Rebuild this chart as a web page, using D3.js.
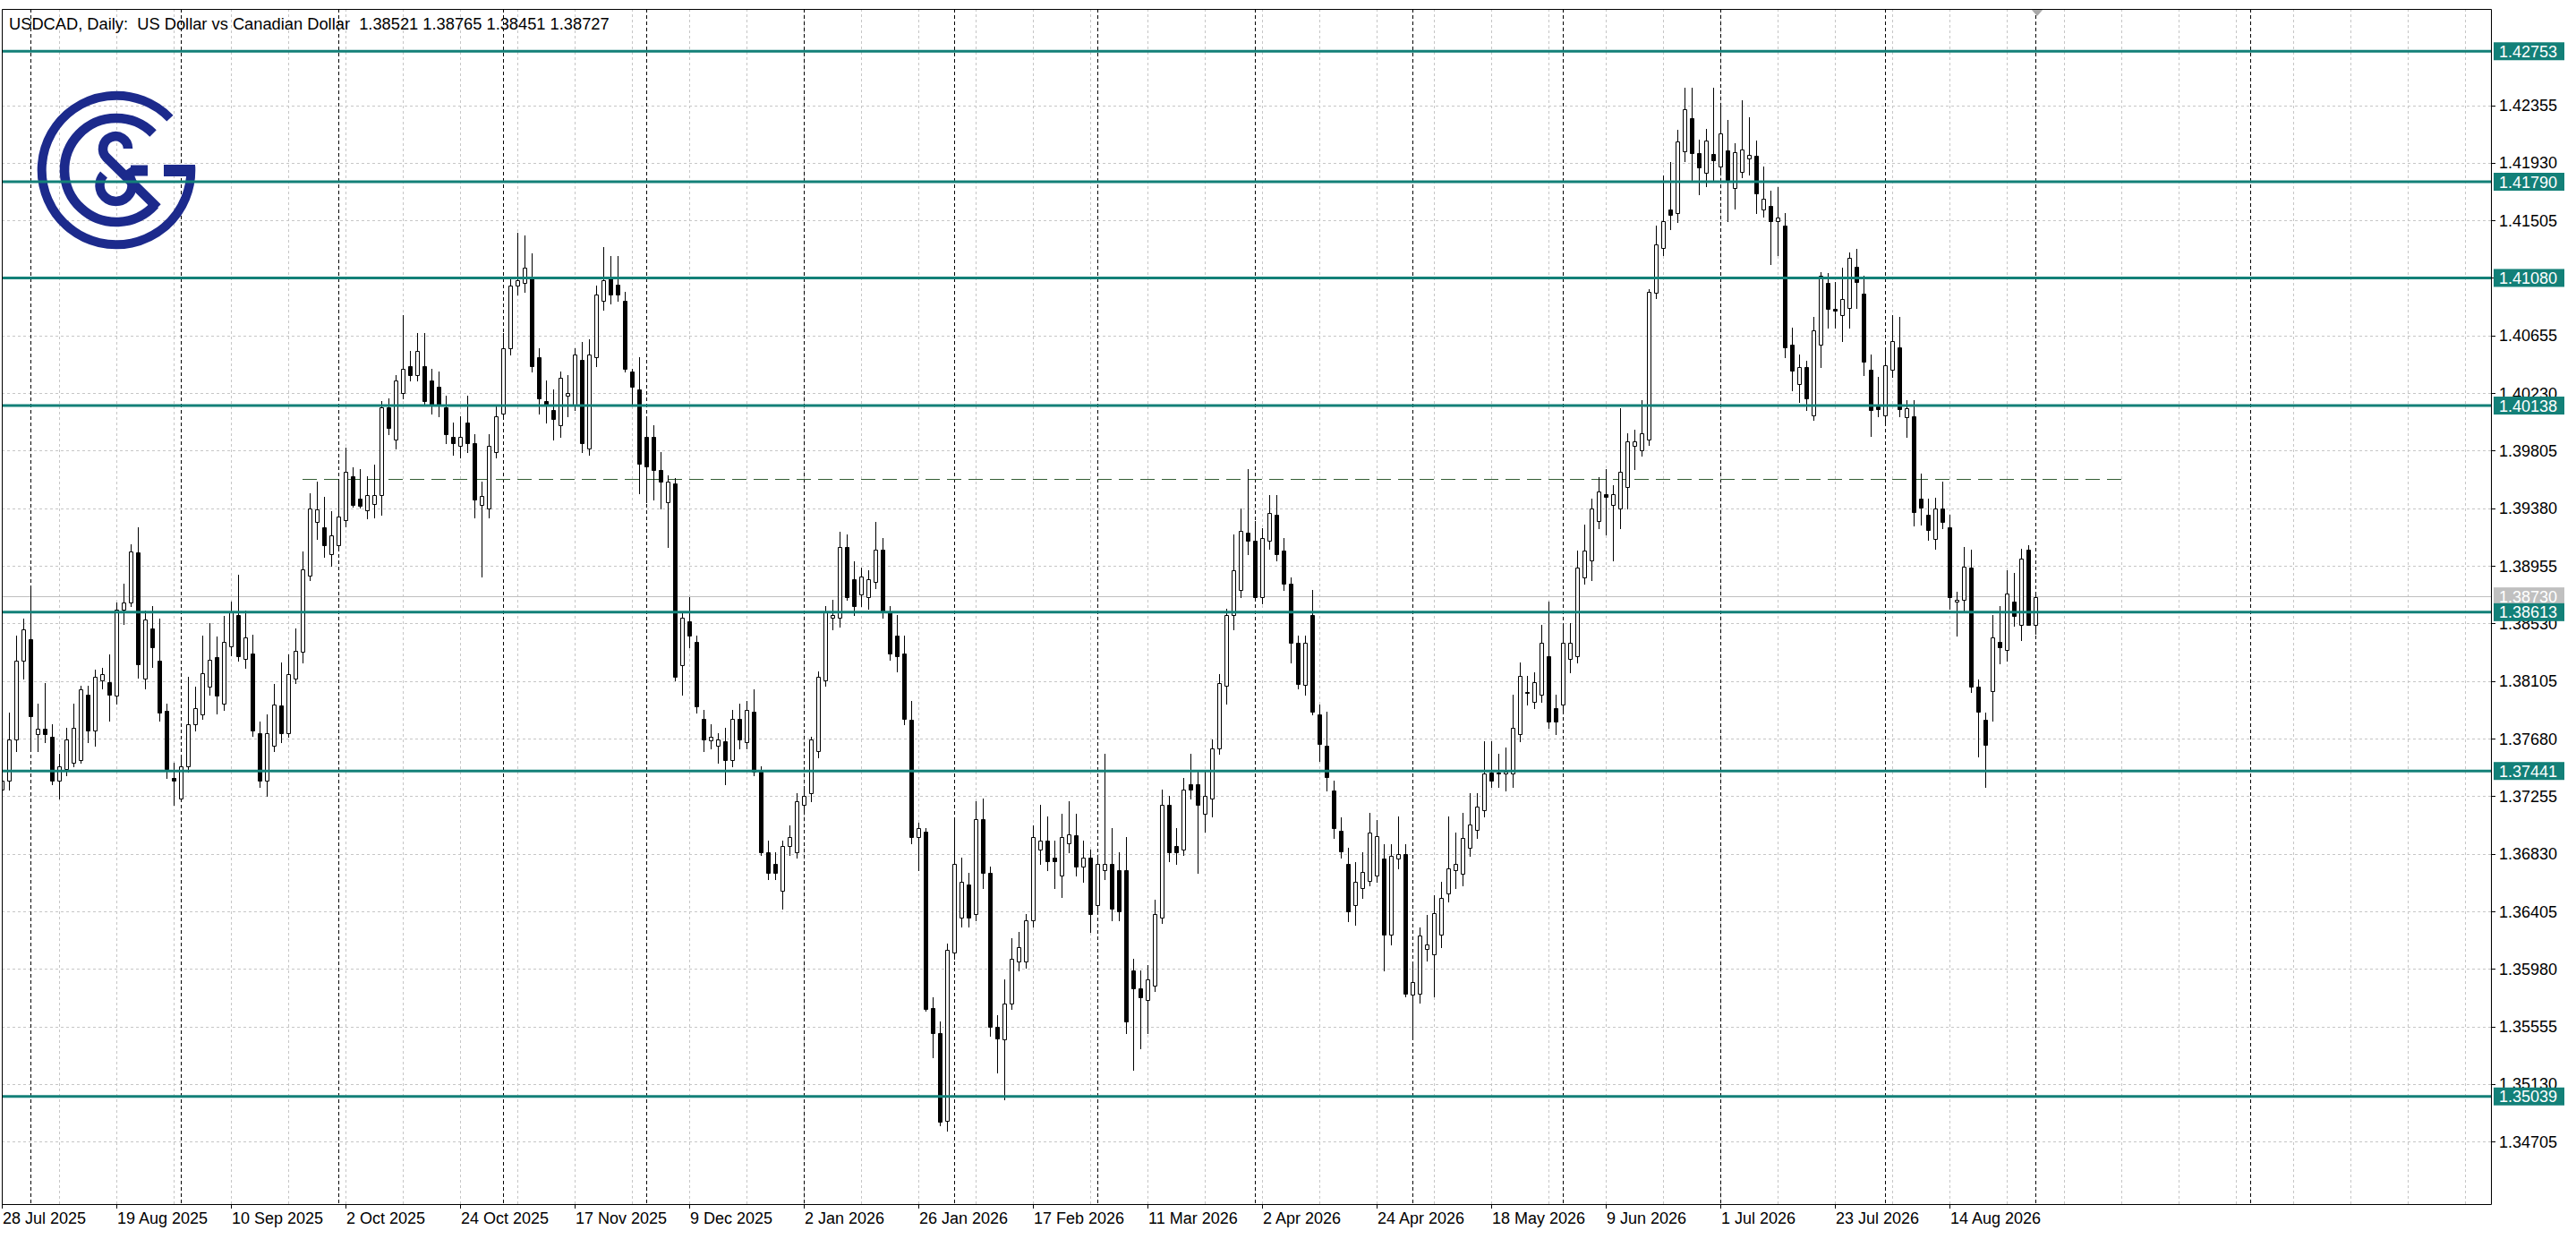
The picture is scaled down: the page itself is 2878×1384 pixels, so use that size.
<!DOCTYPE html>
<html><head><meta charset="utf-8">
<script src="https://cdn.jsdelivr.net/npm/d3@7"></script>
<style>
html,body{margin:0;padding:0;background:#fff;overflow:hidden}
svg{display:block}
</style>
</head><body>
<svg id="chart" width="2878" height="1384"></svg>
<script>
// ---------------- DATA ----------------
const titleText = "USDCAD, Daily:  US Dollar vs Canadian Dollar  1.38521 1.38765 1.38451 1.38727";

const open = [
1.37302,1.37368,1.37674,1.38253,1.38412,1.37714,1.37753,1.37696,1.37368,1.37455,
1.37499,1.37521,1.38002,1.37740,1.38110,1.38099,1.37996,1.38634,1.38683,1.39053,
1.38121,1.38493,1.38258,1.37883,1.37390,1.37236,1.37477,1.37784,1.37857,1.38062,
1.38280,1.37941,1.38359,1.38595,1.38269,1.38308,1.37718,1.37368,1.37630,1.37923,
1.37718,1.38121,1.38319,1.38881,1.39277,1.39238,1.39040,1.39106,1.39295,1.39614,
1.39449,1.39365,1.39414,1.39480,1.40125,1.39884,1.40234,1.40431,1.40365,1.40431,
1.40321,1.40278,1.40125,1.39906,1.39840,1.40015,1.39862,1.39402,1.39381,1.39796,
1.40081,1.40562,1.41022,1.41043,1.41087,1.40496,1.40168,1.40103,1.39993,1.40212,
1.40146,1.40475,1.39818,1.40496,1.40912,1.41087,1.41030,1.40912,1.40387,1.40256,
1.39906,1.39906,1.39665,1.39424,1.39564,1.38221,1.38549,1.38396,1.37827,1.37665,
1.37630,1.37660,1.37521,1.37827,1.37652,1.37880,1.37433,1.36843,1.36755,1.36558,
1.36886,1.36843,1.37193,1.37280,1.37586,1.38112,1.38571,1.38571,1.39096,1.38855,
1.38746,1.38724,1.38834,1.39074,1.38615,1.38440,1.38309,1.37818,1.36952,1.36996,
1.35692,1.35508,1.34861,1.36098,1.36361,1.36602,1.36383,1.37083,1.36689,1.35552,
1.35463,1.35726,1.36033,1.36033,1.36339,1.36864,1.36930,1.36799,1.36667,1.36908,
1.36964,1.36733,1.36799,1.36449,1.36711,1.36755,1.36711,1.36711,1.35967,1.35836,
1.35748,1.35858,1.36361,1.37193,1.36886,1.36864,1.37346,1.37346,1.37127,1.37236,
1.37608,1.38068,1.38593,1.38775,1.39201,1.39138,1.38727,1.39138,1.39331,1.39065,
1.38824,1.38388,1.38074,1.38591,1.37856,1.37629,1.37300,1.37000,1.36758,1.36453,
1.36574,1.36632,1.36671,1.36792,1.36236,1.36792,1.36826,1.35791,1.35800,1.36129,
1.36091,1.36236,1.36536,1.36709,1.36685,1.36874,1.37009,1.37155,1.37431,1.37431,
1.37421,1.37421,1.37711,1.38026,1.37953,1.38001,1.38291,1.37905,1.37929,1.38267,
1.38291,1.38872,1.38993,1.39283,1.39486,1.39404,1.39380,1.39535,1.39839,1.39806,
1.39888,1.40973,1.41299,1.41585,1.41561,1.42013,1.42262,1.42002,1.41854,1.41997,
1.41903,1.42019,1.41744,1.41863,1.41960,1.41982,1.41585,1.41612,1.41497,1.41464,
1.40589,1.40299,1.40420,1.40067,1.40589,1.41044,1.40855,1.40808,1.40856,1.41160,
1.40962,1.40405,1.40130,1.40067,1.40405,1.40565,1.40052,1.40059,1.39449,1.39332,
1.39151,1.39376,1.39237,1.38689,1.38704,1.38942,1.38061,1.37817,1.38033,1.38396,
1.38334,1.38689,1.38522,1.39074,1.38521];

const high = [
1.37477,1.37871,1.38441,1.38568,1.38782,1.37941,1.38088,1.37783,1.37565,1.37762,
1.37937,1.38068,1.38068,1.38187,1.38200,1.38304,1.38683,1.38821,1.39117,1.39240,
1.38628,1.38661,1.38568,1.37937,1.37499,1.37543,1.38137,1.38066,1.38441,1.38533,
1.38436,1.38584,1.38694,1.38888,1.38628,1.38445,1.37805,1.37861,1.38081,1.38242,
1.38304,1.38495,1.39062,1.39493,1.39575,1.39465,1.39359,1.39568,1.39828,1.39685,
1.39669,1.39614,1.39700,1.40168,1.40190,1.40365,1.40803,1.40540,1.40672,1.40672,
1.40409,1.40387,1.40212,1.40015,1.40059,1.40212,1.39928,1.39578,1.39928,1.40146,
1.40672,1.41087,1.41415,1.41394,1.41262,1.40562,1.40321,1.40256,1.40387,1.40365,
1.40562,1.40606,1.40628,1.41022,1.41306,1.41240,1.41240,1.40978,1.40409,1.40496,
1.40059,1.39993,1.39796,1.39621,1.39600,1.38615,1.38724,1.38440,1.37893,1.37783,
1.37718,1.37762,1.37893,1.37937,1.37958,1.38046,1.37477,1.36930,1.36843,1.36930,
1.37040,1.37280,1.37324,1.37696,1.38177,1.38659,1.38702,1.39206,1.39184,1.38987,
1.38943,1.38921,1.39280,1.39162,1.38659,1.38593,1.38440,1.37958,1.37062,1.37018,
1.35770,1.35595,1.36164,1.37083,1.36799,1.36690,1.37215,1.37236,1.36733,1.35639,
1.35901,1.36208,1.36252,1.36383,1.37040,1.37193,1.37105,1.36930,1.37127,1.37215,
1.37127,1.36930,1.36864,1.36799,1.37565,1.37018,1.36843,1.36952,1.36055,1.35967,
1.36011,1.36492,1.37302,1.37258,1.37018,1.37390,1.37565,1.37433,1.37433,1.37674,
1.38155,1.38637,1.39184,1.39380,1.39670,1.39283,1.39235,1.39477,1.39477,1.39162,
1.38872,1.38437,1.38437,1.38775,1.37929,1.37881,1.37373,1.37097,1.36874,1.36768,
1.36840,1.37131,1.37082,1.36898,1.36898,1.37107,1.36898,1.36018,1.36284,1.36381,
1.36526,1.36623,1.37107,1.36985,1.37131,1.37276,1.37276,1.37663,1.37663,1.37566,
1.37615,1.38001,1.38243,1.38146,1.38170,1.38519,1.38693,1.38001,1.38534,1.38533,
1.39065,1.39259,1.39452,1.39607,1.39670,1.39549,1.40120,1.39936,1.39960,1.40178,
1.41000,1.41469,1.41836,1.41938,1.42173,1.42482,1.42482,1.42101,1.42178,1.42482,
1.42354,1.42246,1.42074,1.42389,1.42268,1.42096,1.41902,1.41726,1.41748,1.41557,
1.40710,1.40517,1.40468,1.40792,1.41121,1.41116,1.41049,1.41154,1.41270,1.41292,
1.41099,1.40517,1.40348,1.40541,1.40807,1.40792,1.40180,1.40180,1.39634,1.39449,
1.39460,1.39574,1.39332,1.38764,1.39094,1.39074,1.38114,1.37872,1.38594,1.38660,
1.38925,1.38903,1.39083,1.39105,1.38765];

const low = [
1.36974,1.37302,1.37586,1.38121,1.37586,1.37586,1.37652,1.37346,1.37236,1.37411,
1.37477,1.37499,1.37652,1.37630,1.38050,1.37813,1.37938,1.38524,1.38656,1.38132,
1.38050,1.38209,1.37813,1.37390,1.37193,1.37215,1.37433,1.37740,1.37827,1.38002,
1.37868,1.37890,1.38297,1.38253,1.38199,1.37700,1.37324,1.37258,1.37586,1.37652,
1.37696,1.38090,1.38242,1.38848,1.39156,1.39024,1.38958,1.39068,1.39249,1.39392,
1.39388,1.39306,1.39311,1.39332,1.39928,1.39818,1.40190,1.40321,1.40321,1.40146,
1.40081,1.40059,1.39862,1.39774,1.39752,1.39796,1.39315,1.38877,1.39315,1.39752,
1.40037,1.40518,1.40956,1.40978,1.40387,1.40081,1.40015,1.39884,1.39906,1.40059,
1.40103,1.39796,1.39774,1.40431,1.40847,1.40890,1.40912,1.40387,1.40146,1.39490,
1.39424,1.39446,1.39381,1.39096,1.38112,1.38002,1.38352,1.37871,1.37586,1.37608,
1.37499,1.37346,1.37477,1.37608,1.37608,1.37411,1.36821,1.36645,1.36646,1.36427,
1.36820,1.36799,1.37127,1.37215,1.37543,1.38068,1.38484,1.38506,1.38702,1.38593,
1.38659,1.38637,1.38790,1.38571,1.38265,1.38177,1.37783,1.36908,1.36711,1.35670,
1.35330,1.34824,1.34789,1.36055,1.36296,1.36296,1.36340,1.36580,1.35486,1.35214,
1.35015,1.35683,1.35967,1.35989,1.36296,1.36755,1.36711,1.36580,1.36514,1.36843,
1.36667,1.36624,1.36252,1.36405,1.36646,1.36340,1.36340,1.35508,1.35236,1.35396,
1.35508,1.35814,1.36317,1.36777,1.36755,1.36821,1.37236,1.36689,1.36995,1.37105,
1.37565,1.37937,1.38484,1.38727,1.39041,1.38712,1.38680,1.39080,1.38993,1.38775,
1.38243,1.38050,1.38001,1.37856,1.37518,1.37300,1.36947,1.36803,1.36332,1.36308,
1.36502,1.36598,1.36623,1.35970,1.36163,1.36719,1.35776,1.35486,1.35728,1.36043,
1.35776,1.36139,1.36478,1.36574,1.36598,1.36816,1.36947,1.37106,1.37324,1.37324,
1.37300,1.37324,1.37663,1.37929,1.37905,1.37953,1.37760,1.37711,1.37881,1.38170,
1.38243,1.38824,1.38848,1.39235,1.39186,1.38993,1.39235,1.39380,1.39670,1.39767,
1.39849,1.40929,1.41248,1.41440,1.41495,1.41943,1.41792,1.41695,1.41755,1.41792,
1.41847,1.41502,1.41594,1.41823,1.41843,1.41557,1.41535,1.41182,1.41248,1.40492,
1.40250,1.40163,1.40105,1.40033,1.40420,1.40710,1.40710,1.40613,1.40710,1.40859,
1.40362,1.39912,1.40057,1.40009,1.40348,1.40057,1.39905,1.39255,1.39259,1.39149,
1.39079,1.39230,1.38638,1.38440,1.38616,1.38026,1.37548,1.37324,1.37812,1.38237,
1.38253,1.38511,1.38407,1.38517,1.38451];

const close = [
1.37368,1.37674,1.38253,1.38485,1.37846,1.37753,1.37714,1.37368,1.37477,1.37674,
1.37762,1.38046,1.37740,1.38139,1.38154,1.38004,1.38634,1.38683,1.39064,1.38227,
1.38562,1.38357,1.37875,1.37455,1.37368,1.37477,1.37784,1.37905,1.38161,1.38260,
1.38000,1.38392,1.38617,1.38291,1.38425,1.37740,1.37368,1.37718,1.37934,1.37718,
1.38154,1.38326,1.38932,1.39377,1.39370,1.39106,1.39178,1.39321,1.39647,1.39405,
1.39399,1.39476,1.39480,1.40125,1.39971,1.40321,1.40409,1.40365,1.40540,1.40168,
1.40146,1.40146,1.39928,1.39862,1.39906,1.39862,1.39446,1.39468,1.39840,1.40059,
1.40562,1.41022,1.41065,1.41153,1.40431,1.40190,1.40146,1.40037,1.40343,1.40234,
1.40518,1.39862,1.40518,1.40956,1.41065,1.40956,1.40956,1.40409,1.40278,1.39709,
1.39687,1.39665,1.39578,1.39578,1.38134,1.38571,1.38440,1.37915,1.37674,1.37696,
1.37674,1.37521,1.37827,1.37674,1.37893,1.37433,1.36843,1.36689,1.36689,1.36886,
1.36952,1.37215,1.37258,1.37674,1.38134,1.38615,1.38593,1.39096,1.38724,1.38659,
1.38877,1.38855,1.39074,1.38615,1.38309,1.38287,1.37827,1.36952,1.37018,1.35683,
1.35508,1.34855,1.36120,1.36755,1.36624,1.36361,1.37083,1.36689,1.35552,1.35467,
1.35726,1.36055,1.36142,1.36339,1.36952,1.36930,1.36777,1.36777,1.36952,1.36974,
1.36733,1.36799,1.36383,1.36755,1.36755,1.36427,1.36405,1.35595,1.35836,1.35770,
1.35901,1.36383,1.37193,1.36843,1.36843,1.37302,1.37302,1.37193,1.37258,1.37608,
1.38090,1.38593,1.38921,1.39211,1.39138,1.38727,1.39162,1.39346,1.39041,1.38824,
1.38388,1.38084,1.38388,1.37881,1.37639,1.37397,1.37019,1.36850,1.36405,1.36623,
1.36695,1.36985,1.36961,1.36236,1.36816,1.36826,1.35800,1.35883,1.36226,1.36163,
1.36395,1.36502,1.36719,1.36758,1.36947,1.37048,1.37179,1.37421,1.37373,1.37421,
1.37436,1.37760,1.38146,1.38016,1.38098,1.38388,1.37808,1.37808,1.38388,1.38388,
1.38944,1.39065,1.39380,1.39501,1.39467,1.39486,1.39646,1.39873,1.39873,1.39936,
1.40976,1.41325,1.41497,1.41546,1.42085,1.42323,1.42004,1.41898,1.42092,1.41947,
1.42145,1.41806,1.42008,1.42026,1.41991,1.41706,1.41662,1.41502,1.41528,1.40565,
1.40396,1.40420,1.40192,1.40695,1.41097,1.40852,1.40841,1.40922,1.41226,1.41050,
1.40459,1.40105,1.40115,1.40434,1.40613,1.40115,1.40118,1.39354,1.39383,1.39222,
1.39376,1.39277,1.38722,1.38704,1.38947,1.38061,1.37879,1.37636,1.38425,1.38352,
1.38748,1.38583,1.39008,1.38517,1.38727];

// price axis tick labels
const yTicks = [1.42355,1.41930,1.41505,1.41080,1.40655,1.40230,1.39805,1.39380,1.38955,
                1.38530,1.38105,1.37680,1.37255,1.36830,1.36405,1.35980,1.35555,1.35130,1.34705];
// time axis labels (one every 16 bars)
const dateLabels = ["28 Jul 2025","19 Aug 2025","10 Sep 2025","2 Oct 2025","24 Oct 2025",
  "17 Nov 2025","9 Dec 2025","2 Jan 2026","26 Jan 2026","17 Feb 2026","11 Mar 2026",
  "2 Apr 2026","24 Apr 2026","18 May 2026","9 Jun 2026","1 Jul 2026","23 Jul 2026","14 Aug 2026"];
const dateLabelBars = [0,16,32,48,64,80,96,112,128,144,160,176,192,208,224,240,256,272];
// month separators (bar index of first trading day of each month)
const monthSeparators = [4,25,47,70,90,112,133,153,175,197,218,240,263,284,314];
// horizontal support / resistance levels
const levels = [1.42753,1.41790,1.41080,1.40138,1.38613,1.37441,1.35039];
// dashed trend line
const trendFrom = 42, trendTo = 296.2, trendPrice = 1.39597;
// bid line
const bidPrice = 1.38730;

// ---------------- DRAW ----------------
const svg = d3.select("#chart");
const PL = 2, PR = 2783, PT = 10, PB = 1345;
const TEAL = "#138078", NAVY = "#1c2a8c";
const FONT = "'Liberation Sans', Arial, Helvetica, sans-serif";

const x = d3.scaleLinear().domain([0, 284]).range([2, 2274]);
const y = d3.scaleLinear().domain([1.34705, 1.42355]).range([1275.3, 117.5]);
const px = v => Math.round(v) + 0.5;

svg.append("rect").attr("width", 2878).attr("height", 1384).attr("fill", "#fff");

const defs = svg.append("defs");
defs.append("clipPath").attr("id", "plotclip").append("rect")
  .attr("x", PL).attr("y", PT).attr("width", PR - PL).attr("height", PB - PT);

const g = svg.append("g").attr("clip-path", "url(#plotclip)");

// grid
const gridBars = d3.range(0, 350, 8);
g.append("g").selectAll("line").data(gridBars).join("line")
  .attr("x1", d => px(x(d))).attr("x2", d => px(x(d)))
  .attr("y1", PT).attr("y2", PB)
  .attr("stroke", "#c6c6c6").attr("stroke-width", 1).attr("stroke-dasharray", "3,3");
g.append("g").selectAll("line").data(yTicks).join("line")
  .attr("x1", PL).attr("x2", PR)
  .attr("y1", d => px(y(d))).attr("y2", d => px(y(d)))
  .attr("stroke", "#c6c6c6").attr("stroke-width", 1).attr("stroke-dasharray", "3,3");

// month separators
g.append("g").selectAll("line").data(monthSeparators).join("line")
  .attr("x1", d => px(x(d))).attr("x2", d => px(x(d)))
  .attr("y1", PT).attr("y2", PB)
  .attr("stroke", "#000").attr("stroke-width", 1).attr("stroke-dasharray", "4,3");

// logo
const logo = g.append("g").attr("fill", "none").attr("stroke", NAVY);
const cxL = 130, cyL = 190;
function arcPt(r, deg) { const a = deg * Math.PI / 180; return [cxL + r * Math.cos(a), cyL - r * Math.sin(a)]; }
{
  const r1 = 83.3, p1 = arcPt(r1, 44), p2 = arcPt(r1, 3);
  logo.append("path").attr("stroke-width", 10)
    .attr("d", `M${p1[0]},${p1[1]} A${r1},${r1} 0 1 0 ${p2[0]},${p2[1]}`);
  const r2 = 58, q1 = arcPt(r2, 45), q2 = arcPt(r2, -42);
  logo.append("path").attr("stroke-width", 10.6)
    .attr("d", `M${q1[0]},${q1[1]} A${r2},${r2} 0 1 0 ${q2[0]},${q2[1]}`);
  // ampersand
  logo.append("path").attr("stroke-width", 10.5)
    .attr("d", "M143,166 A14,14 0 1 0 119,176 L176,232");
  logo.append("path").attr("stroke-width", 10.5)
    .attr("d", "M116,195 A18,18 0 1 0 143,195 L150,190.5");
  logo.append("rect").attr("stroke", "none").attr("fill", NAVY)
    .attr("x", 183).attr("y", 184).attr("width", 35).attr("height", 13);
  logo.append("rect").attr("stroke", "none").attr("fill", NAVY)
    .attr("x", 146).attr("y", 184.5).attr("width", 19).attr("height", 12);
}

// bid line
g.append("line").attr("x1", PL).attr("x2", PR)
  .attr("y1", px(y(bidPrice))).attr("y2", px(y(bidPrice)))
  .attr("stroke", "#c0c0c0").attr("stroke-width", 1);

// trend line
g.append("line")
  .attr("x1", x(trendFrom)).attr("x2", x(trendTo))
  .attr("y1", px(y(trendPrice))).attr("y2", px(y(trendPrice)))
  .attr("stroke", "#355e35").attr("stroke-width", 1).attr("stroke-dasharray", "16,8");

// candles
const candles = open.map((o, i) => ({ i, o, h: high[i], l: low[i], c: close[i] }));
const cg = g.append("g");
cg.selectAll("line.wick").data(candles).join("line").attr("class", "wick")
  .attr("x1", d => px(x(d.i))).attr("x2", d => px(x(d.i)))
  .attr("y1", d => Math.round(y(d.h))).attr("y2", d => Math.round(y(d.l)) + 1)
  .attr("stroke", "#000").attr("stroke-width", 1);
cg.selectAll("path.body").data(candles).join("path").attr("class", "body")
  .attr("d", d => {
    const xc = Math.round(x(d.i));
    const x0 = xc - 2 + 0.5, x1 = xc + 2 + 0.5;
    const yt = Math.round(y(Math.max(d.o, d.c))) + 0.5;
    const yb = Math.round(y(Math.min(d.o, d.c))) + 0.5;
    return `M${x0},${yt}H${x1}V${yb}H${x0}Z`;
  })
  .attr("fill", d => d.c >= d.o ? "#fff" : "#000")
  .attr("stroke", "#000").attr("stroke-width", 1);

// level lines
g.append("g").selectAll("line").data(levels).join("line")
  .attr("x1", PL).attr("x2", PR)
  .attr("y1", d => y(d)).attr("y2", d => y(d))
  .attr("stroke", TEAL).attr("stroke-width", 3);

// shift marker
svg.append("path").attr("d", "M2269,10 L2283,10 L2276,18 Z").attr("fill", "#a8a8a8");

// frame
svg.append("path")
  .attr("d", `M${PL + 0.5},${PT + 0.5}H${PR + 0.5}V${PB + 0.5}H${PL + 0.5}Z`)
  .attr("fill", "none").attr("stroke", "#000").attr("stroke-width", 1);

// price axis
const ya = svg.append("g").attr("font-family", FONT).attr("font-size", 18);
ya.selectAll("line").data(yTicks).join("line")
  .attr("x1", PR).attr("x2", PR + 5)
  .attr("y1", d => px(y(d))).attr("y2", d => px(y(d)))
  .attr("stroke", "#000");
ya.selectAll("text").data(yTicks).join("text")
  .attr("x", 2792).attr("y", d => y(d) + 6.5)
  .attr("fill", "#000").text(d => d.toFixed(5));

// bid label
const bl = svg.append("g").attr("font-family", FONT).attr("font-size", 18);
bl.append("rect").attr("x", 2786).attr("y", y(bidPrice) - 10).attr("width", 79).attr("height", 20).attr("fill", "#c0c0c0");
bl.append("text").attr("x", 2792).attr("y", y(bidPrice) + 6.5).attr("fill", "#fff").text(bidPrice.toFixed(5));

// level labels
const ll = svg.append("g").attr("font-family", FONT).attr("font-size", 18);
ll.selectAll("rect").data(levels).join("rect")
  .attr("x", 2786).attr("y", d => y(d) - 10).attr("width", 79).attr("height", 20)
  .attr("fill", TEAL);
ll.selectAll("text").data(levels).join("text")
  .attr("x", 2792).attr("y", d => y(d) + 6.5)
  .attr("fill", "#fff").text(d => d.toFixed(5));

// time axis
const xa = svg.append("g").attr("font-family", FONT).attr("font-size", 18);
xa.selectAll("line").data(dateLabelBars).join("line")
  .attr("x1", d => px(x(d))).attr("x2", d => px(x(d)))
  .attr("y1", PB).attr("y2", PB + 5).attr("stroke", "#000");
xa.selectAll("text").data(dateLabels).join("text")
  .attr("x", (d, k) => Math.round(x(dateLabelBars[k])) + 1).attr("y", 1367)
  .attr("fill", "#000").text(d => d);

// title
svg.append("text").attr("x", 10).attr("y", 33)
  .attr("font-family", FONT).attr("font-size", 18.3).attr("fill", "#000")
  .attr("xml:space", "preserve").style("white-space", "pre")
  .text(titleText);
</script>
</body></html>
